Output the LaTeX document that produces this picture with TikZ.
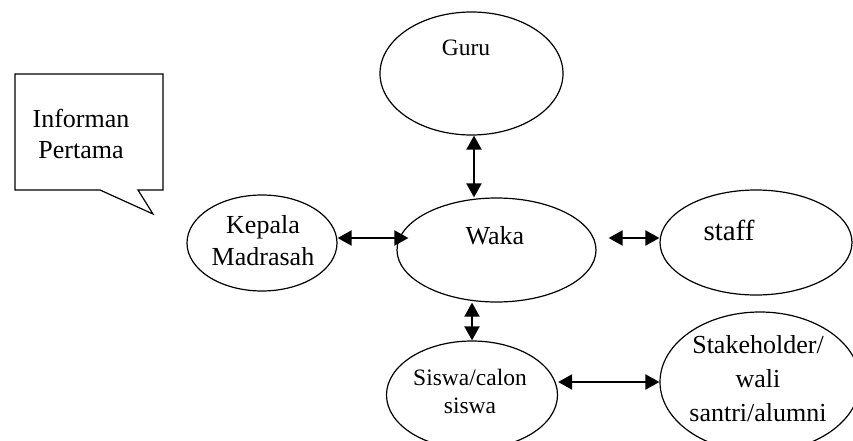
\documentclass[tikz,border=0pt]{standalone}
\usepackage{fontspec}
\setmainfont{Liberation Serif}
\usetikzlibrary{arrows.meta,shapes.geometric}

\begin{document}
\begin{tikzpicture}[x=1pt,y=-1pt,
    oval/.style={draw, ellipse, line width=1.2pt, inner sep=0pt},
    txt/.style={font=\fontsize{26}{31}\selectfont, align=center, inner sep=0pt},
    biarrow/.style={line width=2pt, {Triangle[length=14pt,width=15pt]}-{Triangle[length=14pt,width=15pt]}}]
        \useasboundingbox (0,0) rectangle (853,441);
        \clip (0,0) rectangle (853,441);
        \draw[line width=1.2pt] (15,74) -- (163,74) -- (163,190) -- (138,190) -- (153,214) -- (100,190) -- (15,190) -- cycle;
        \node[txt] (informan) at (81,134) {Informan\\Pertama};
        \node[oval, minimum width=183pt, minimum height=123pt] (guru) at (471.5,73.5) {};
        \node[oval, minimum width=199pt, minimum height=104pt] (waka) at (496.5,250) {};
        \node[oval, minimum width=150pt, minimum height=96pt] (kepala) at (262,243) {};
        \node[oval, minimum width=192pt, minimum height=105pt] (staff) at (756,242.5) {};
        \node[oval, minimum width=171pt, minimum height=108pt] (siswa) at (472,395) {};
        \node[oval, minimum width=200pt, minimum height=140pt] (stake) at (760,382) {};
        \node[txt, font=\fontsize{23.5}{28}\selectfont] (gurutxt) at (466,48) {Guru};
        \node[txt] (wakatxt) at (495,236) {Waka};
        \node[txt, font=\fontsize{26}{32}\selectfont] (kepalatxt) at (263,241) {Kepala\\Madrasah};
        \node[txt, font=\fontsize{29}{33}\selectfont] (stafftxt) at (729,230) {staff};
        \node[txt, font=\fontsize{23.5}{28}\selectfont] (siswatxt) at (470,391) {Siswa/calon\\siswa};
        \node[txt, font=\fontsize{26}{34}\selectfont] (staketxt) at (758,379) {Stakeholder/\\wali\\santri/alumni};
        \draw[biarrow] ([xshift=2.5pt]guru.south) -- ([xshift=2.5pt]guru.south |- waka.north);
        \draw[biarrow] ([yshift=5pt]kepala.east) -- ([xshift=12pt,yshift=12pt]waka.west);
        \draw[biarrow] ([xshift=12pt,yshift=12pt]waka.east) -- ([yshift=4.5pt]staff.west);
        \draw[biarrow] (siswa.north |- waka.south) -- (siswa.north);
        \draw[biarrow] (stake.west -| siswa.east) -- (stake.west);
\end{tikzpicture}
\end{document}
